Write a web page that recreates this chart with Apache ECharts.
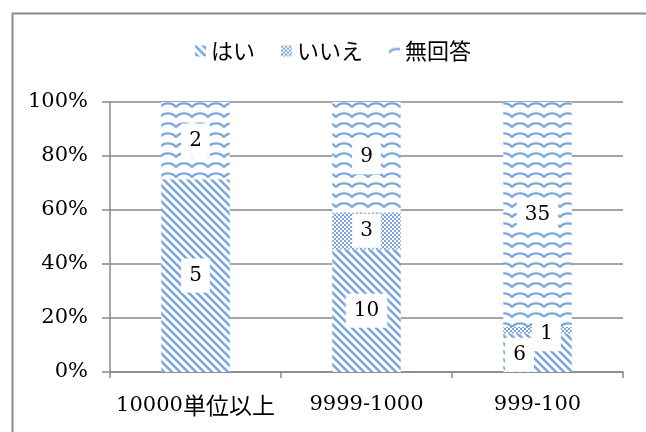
<!DOCTYPE html>
<html><head><meta charset="utf-8">
<script src="https://cdn.jsdelivr.net/npm/echarts@6/dist/echarts.min.js"></script>
<style>html,body{margin:0;padding:0;background:#fff;}#c{width:646px;height:432px;}</style>
</head><body><div id="c"></div>
<script>
const categories = ['10000単位以上', '9999-1000', '999-100'];
const seriesNames = ['はい', 'いいえ', '無回答'];
const yesCounts = [5, 10, 6];
const noCounts = [0, 3, 1];
const naCounts = [2, 9, 35];
const yTicks = [0, 20, 40, 60, 80, 100];

const FONT = '"DejaVu Serif", "Noto Sans CJK JP", serif';
const JFONT = '"Noto Sans CJK JP", sans-serif';
const BLUE = '#7aa6dd';

function tile(w, h, draw) {
  const c = document.createElement('canvas');
  c.width = w; c.height = h;
  const ctx = c.getContext('2d');
  ctx.fillStyle = '#fff'; ctx.fillRect(0, 0, w, h);
  draw(ctx, w, h);
  return { image: c, repeat: 'repeat' };
}
const stripes = tile(8, 8, (ctx, w, h) => {
  ctx.strokeStyle = BLUE; ctx.lineWidth = 2.6;
  ctx.beginPath();
  ctx.moveTo(-2, -2); ctx.lineTo(w + 2, h + 2);
  ctx.moveTo(-2, h - 2); ctx.lineTo(2, h + 2);
  ctx.moveTo(w - 2, -2); ctx.lineTo(w + 2, 2);
  ctx.stroke();
});
const checker = tile(4, 4, (ctx) => {
  ctx.fillStyle = BLUE;
  ctx.fillRect(0, 0, 2, 2); ctx.fillRect(2, 2, 2, 2);
});
const waves = tile(16, 10, (ctx, w, h) => {
  ctx.strokeStyle = BLUE; ctx.lineWidth = 2.2;
  ctx.beginPath();
  ctx.moveTo(0, 7.5);
  ctx.bezierCurveTo(3, 2, 13, 2, 16, 7.5);
  ctx.stroke();
});
const patterns = [stripes, checker, waves];

const totals = yesCounts.map((v, i) => v + noCounts[i] + naCounts[i]);
const allCounts = [yesCounts, noCounts, naCounts];
const labelOffsets = [
  [[0, 0], [0, 0], [-18, 2]],
  [[0, 0], [0, 0], [9, 4]],
  [[0, 0], [0, 0], [0, 0]]
];

const series = allCounts.map((counts, s) => ({
  name: seriesNames[s],
  type: 'bar',
  stack: 'total',
  barWidth: '40%',
  itemStyle: { color: patterns[s] },
  data: counts.map((v, i) => ({
    value: v / totals[i] * 100,
    count: v,
    label: { show: v > 0, offset: labelOffsets[s][i] }
  })),
  label: {
    show: true,
    position: 'inside',
    formatter: p => String(p.data.count),
    color: '#000',
    fontFamily: FONT,
    fontSize: 20,
    backgroundColor: '#fff',
    padding: [8, 8, 6, 8]
  }
}));

function catLabel(v) {
  return v.replace(/([^\x00-\x7f]+)/g, '{j|$1}').split(/(\{j\|[^}]*\})/).map(s =>
    s.startsWith('{j|') ? s : (s ? '{d|' + s + '}' : '')).join('');
}

const chart = echarts.init(document.getElementById('c'), null, { renderer: 'canvas' });
chart.setOption({
  animation: false,
  backgroundColor: '#fff',
  graphic: [{
    type: 'rect', left: 10, top: 11, z: 100,
    shape: { x: 0, y: 0, width: 700, height: 500 },
    style: { fill: 'none', stroke: '#888', lineWidth: 2 }
  }],
  legend: {
    top: 35, left: 190,
    itemWidth: 11, itemHeight: 11, itemGap: 26,
    icon: 'rect',
    textStyle: { fontFamily: JFONT, fontSize: 22, color: '#000' },
    data: seriesNames
  },
  grid: { left: 110, right: 23, top: 102, bottom: 60 },
  xAxis: {
    type: 'category',
    data: categories,
    axisLine: { lineStyle: { color: '#888', width: 1.5 } },
    axisTick: { show: true, length: 6, lineStyle: { color: '#888', width: 1.5 } },
    axisLabel: {
      interval: 0, color: '#000', margin: 22,
      formatter: catLabel,
      rich: {
        d: { fontFamily: FONT, fontSize: 21, color: '#000' },
        j: { fontFamily: JFONT, fontSize: 23, color: '#000' }
      }
    }
  },
  yAxis: {
    type: 'value', min: 0, max: 100, interval: 20,
    axisLine: { show: true, lineStyle: { color: '#888', width: 1.5 } },
    axisTick: { show: true, length: 8, lineStyle: { color: '#888', width: 1.5 } },
    splitLine: { lineStyle: { color: '#888', width: 1.5 } },
    axisLabel: {
      fontFamily: FONT, fontSize: 21, color: '#000', margin: 22,
      formatter: v => yTicks.includes(v) ? v + '%' : ''
    }
  },
  series: series
});
</script></body></html>
